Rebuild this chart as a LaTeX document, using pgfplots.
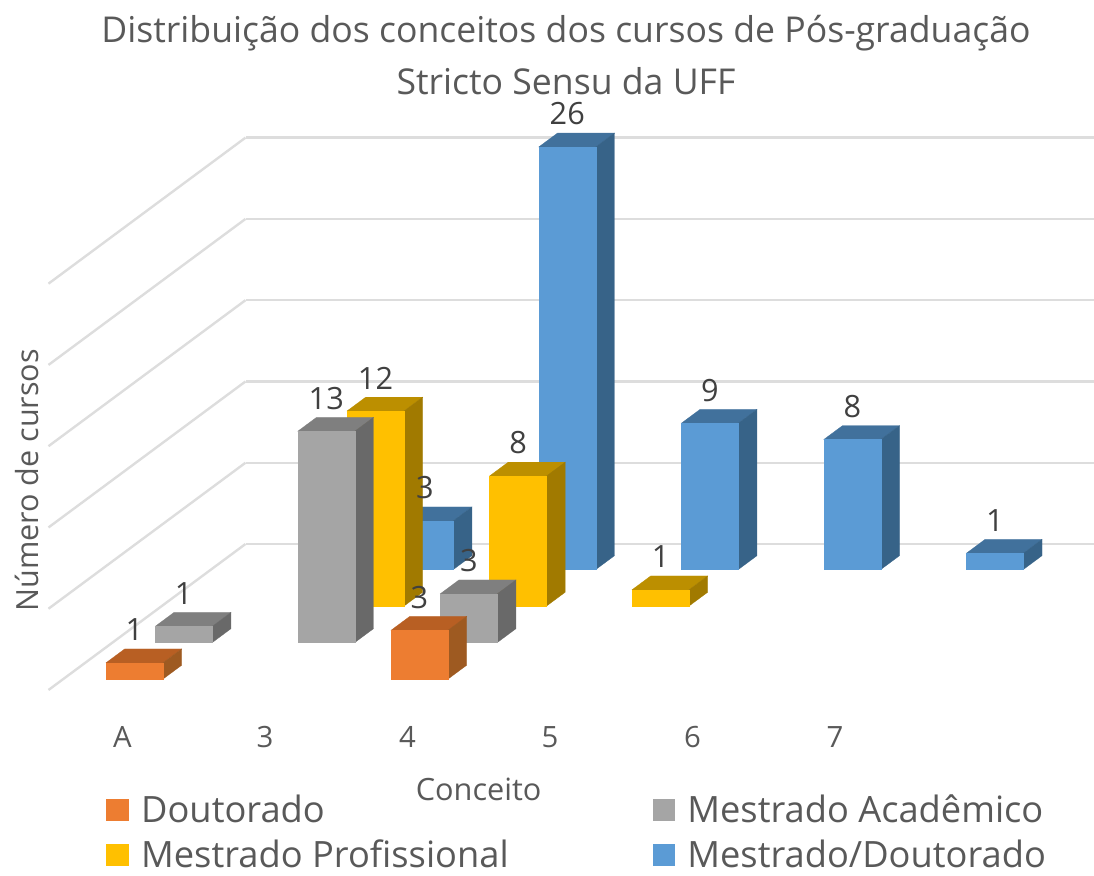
\documentclass[border=0pt]{standalone}
\usepackage{fontspec}
\setmainfont{Open Sans}
\usepackage{pgfplots}
\pgfplotsset{compat=1.18}
\definecolor{txt}{HTML}{595959}
\definecolor{lab}{HTML}{404040}
\definecolor{gridc}{HTML}{DDDDDD}
\definecolor{oF}{HTML}{ED7D31}\definecolor{oS}{HTML}{9E5A21}\definecolor{oT}{HTML}{B85F23}
\definecolor{gF}{HTML}{A5A5A5}\definecolor{gS}{HTML}{696969}\definecolor{gT}{HTML}{7F7F7F}
\definecolor{yF}{HTML}{FFC000}\definecolor{yS}{HTML}{A17A00}\definecolor{yT}{HTML}{BC8F00}
\definecolor{bF}{HTML}{5B9BD5}\definecolor{bS}{HTML}{376388}\definecolor{bT}{HTML}{41719C}
% #1 category position, #2 series row, #3 value, #4 colour prefix
\newcommand{\barbox}[4]{%
  \pgfmathsetmacro{\xa}{#1-0.2}\pgfmathsetmacro{\xb}{#1+0.2}%
  \pgfmathsetmacro{\ya}{#2+0.3}\pgfmathsetmacro{\yb}{#2+0.68}%
  \addplot3[forget plot,draw=#4T,line width=0.2pt,fill=#4T] coordinates {(\xa,\ya,#3)(\xb,\ya,#3)(\xb,\yb,#3)(\xa,\yb,#3)} -- cycle;
  \addplot3[forget plot,draw=#4S,line width=0.2pt,fill=#4S] coordinates {(\xb,\ya,0)(\xb,\yb,0)(\xb,\yb,#3)(\xb,\ya,#3)} -- cycle;
  \addplot3[forget plot,draw=#4F,line width=0.2pt,fill=#4F] coordinates {(\xa,\ya,0)(\xb,\ya,0)(\xb,\ya,#3)(\xa,\ya,#3)} -- cycle;
}
\begin{document}
\begin{tikzpicture}
\useasboundingbox (0,0) rectangle (820.5pt,656.25pt);
\begin{axis}[
  at={(89.8pt,138.75pt)},anchor=origin,
  x={(106.875pt,0pt)},y={(36.94pt,27.375pt)},z={(0pt,12.19pt)},
  disabledatascaling,
  xmin=-0.5,xmax=5.46,ymin=0,ymax=4,zmin=0,zmax=25,
  clip=false,
  /pgf/number format/assume math mode=true,
  axis line style={draw=none},
  tick style={draw=none},
  xtick={0,1,2,3,4,5},xticklabels={A,3,4,5,6,7},
  ytick=\empty,
  ztick={0,5,10,15,20,25},zticklabels={},
  zmajorgrids,
  grid style={gridc,line width=1.8pt},
  xticklabel style={font=\fontsize{22}{26}\selectfont,text=txt,anchor=center,yshift=-35pt,xshift=2pt},
  legend columns=2,
  legend cell align=left,
  legend style={at={(axis cs:-0.5,0,0)},anchor=north west,xshift=40.3pt,yshift=-74.5pt,
    draw=none,fill=none,font=\fontsize{27.2}{33}\selectfont,text=txt,
    /tikz/every even column/.append style={column sep=106pt},
    /tikz/every odd column/.append style={column sep=7pt},
    row sep=7.5pt},
  legend image code/.code={\fill[#1] (0pt,-8.5pt) rectangle (17pt,8.5pt);},
]
\addlegendimage{fill=oF,draw=none}\addlegendentry{Doutorado}
\addlegendimage{fill=gF,draw=none}\addlegendentry{Mestrado Acadêmico}
\addlegendimage{fill=yF,draw=none}\addlegendentry{Mestrado Profissional}
\addlegendimage{fill=bF,draw=none}\addlegendentry{Mestrado/Doutorado}
% blue row
\barbox{5}{3}{1}{b}\barbox{4}{3}{8}{b}\barbox{3}{3}{9}{b}\barbox{2}{3}{26}{b}\barbox{1}{3}{3}{b}
% yellow row
\barbox{3}{2}{1}{y}\barbox{2}{2}{8}{y}\barbox{1}{2}{12}{y}
% gray row
\barbox{2}{1}{3}{g}\barbox{1}{1}{13}{g}\barbox{0}{1}{1}{g}
% orange row
\barbox{2}{0}{3}{o}\barbox{0}{0}{1}{o}
% data labels
\addplot3[forget plot,only marks,mark=none,point meta=z,
  nodes near coords={\pgfmathprintnumber[assume math mode=true]{\pgfplotspointmeta}},
  every node near coord/.append style={anchor=center,yshift=24.75pt,text=lab,font=\fontsize{23}{28}\selectfont}]
table[x=x,y=y,z=v]{
x y v
0 0.3 1
2 0.3 3
0 1.3 1
1 1.3 13
2 1.3 3
1 2.3 12
2 2.3 8
3 2.3 1
1 3.3 3
2 3.3 26
3 3.3 9
4 3.3 8
5 3.3 1
};
\end{axis}
\node[text=txt,align=center,font=\fontsize{26.7}{39}\selectfont,anchor=center] at (424.5pt,615pt) {Distribuição dos conceitos dos cursos de Pós-graduação\\Stricto Sensu da UFF};
\node[text=txt,rotate=90,font=\fontsize{22.9}{27}\selectfont,anchor=center] at (20pt,296pt) {Número de cursos};
\node[text=txt,font=\fontsize{23}{27}\selectfont,anchor=center] at (359pt,64pt) {Conceito};
\end{tikzpicture}
\end{document}
